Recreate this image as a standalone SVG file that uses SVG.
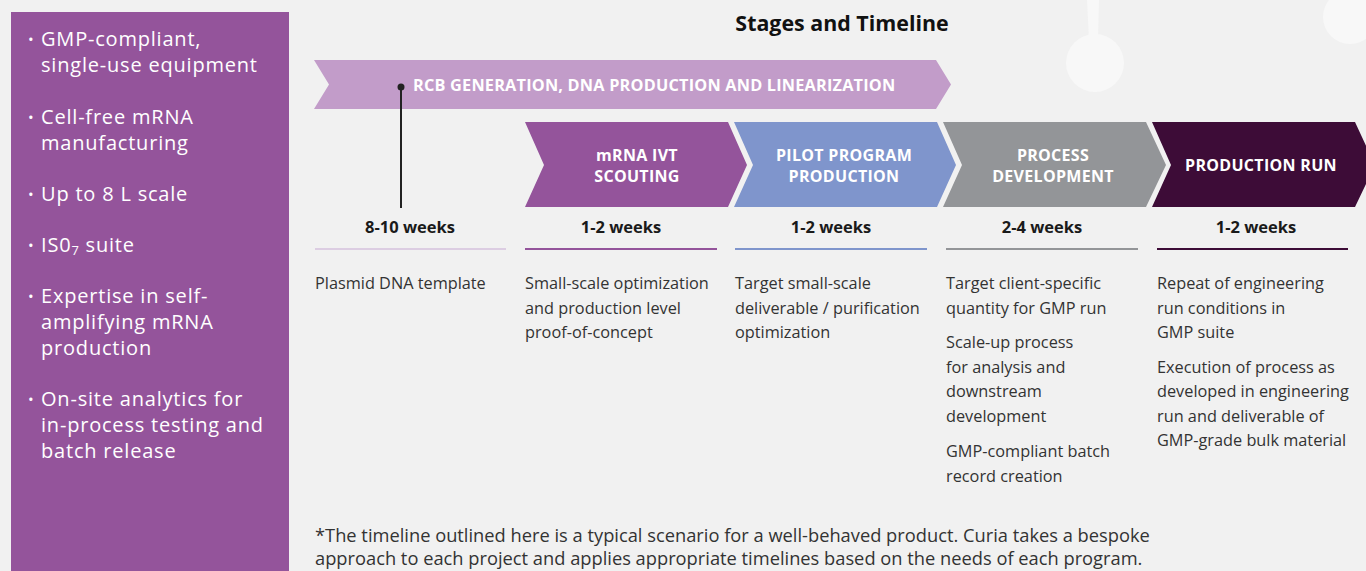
<svg xmlns="http://www.w3.org/2000/svg" width="1366" height="571" viewBox="0 0 1366 571">
  <defs>
    <style>
      .panel-text { font-family: "Open Sans", "Liberation Sans", sans-serif; font-size: 20px; letter-spacing: 0.8px; fill: #ffffff; }
      .bullet { font-family: "Open Sans", "Liberation Sans", sans-serif; font-size: 15px; fill: #ffffff; }
      .title { font-family: "Open Sans", "Liberation Sans", sans-serif; font-size: 21.4px; font-weight: 700; fill: #111111; text-anchor: middle; }
      .stage-label { font-family: "Open Sans", "Liberation Sans", sans-serif; font-size: 16px; font-weight: 700; fill: #ffffff; text-anchor: middle; letter-spacing: 0.3px; }
      .banner-label { font-family: "Open Sans", "Liberation Sans", sans-serif; font-size: 16.3px; font-weight: 700; fill: #ffffff; letter-spacing: 0.2px; }
      .weeks { font-family: "Open Sans", "Liberation Sans", sans-serif; font-size: 16.5px; font-weight: 700; fill: #1a1a1a; text-anchor: middle; }
      .body { font-family: "Open Sans", "Liberation Sans", sans-serif; font-size: 16.3px; fill: #333333; }
      .note { font-family: "Open Sans", "Liberation Sans", sans-serif; font-size: 18.3px; fill: #333333; }
      .rule { stroke-width: 2; fill: none; }
      .deco { fill: #f8f8f8; }
    </style>
  </defs>

  <!-- page background -->
  <rect x="0" y="0" width="1366" height="571" fill="#f1f1f1"/>

  <!-- faint decorative shapes -->
  <g id="decoration">
    <path class="deco" d="M1087,0 L1099,0 L1098,40 L1089,40 Z"/>
    <circle class="deco" cx="1095" cy="63" r="29"/>
    <circle class="deco" cx="1350" cy="17" r="27"/>
  </g>

  <!-- capabilities panel -->
  <g id="capabilities">
    <rect x="11" y="12" width="278" height="559" fill="#94549b"/>
    <text class="bullet" x="28" y="45">•</text>
    <text class="panel-text" x="41" y="46">GMP-compliant,</text>
    <text class="panel-text" x="41" y="72">single-use equipment</text>
    <text class="bullet" x="28" y="123">•</text>
    <text class="panel-text" x="41" y="124">Cell-free mRNA</text>
    <text class="panel-text" x="41" y="150">manufacturing</text>
    <text class="bullet" x="28" y="200">•</text>
    <text class="panel-text" x="41" y="201">Up to 8 L scale</text>
    <text class="bullet" x="28" y="251">•</text>
    <text class="panel-text" x="41" y="252">IS0<tspan font-size="13" dy="3">7</tspan><tspan dy="-3"> suite</tspan></text>
    <text class="bullet" x="28" y="302">•</text>
    <text class="panel-text" x="41" y="303">Expertise in self-</text>
    <text class="panel-text" x="41" y="329">amplifying mRNA</text>
    <text class="panel-text" x="41" y="355">production</text>
    <text class="bullet" x="28" y="405">•</text>
    <text class="panel-text" x="41" y="406">On-site analytics for</text>
    <text class="panel-text" x="41" y="432">in-process testing and</text>
    <text class="panel-text" x="41" y="458">batch release</text>
  </g>

  <text id="title" class="title" x="842" y="31">Stages and Timeline</text>

  <!-- long-running upstream stage -->
  <g id="stage-rcb">
    <path d="M314,60 L936,60 L951,84.5 L936,109 L314,109 L329,84.5 Z" fill="#c29cc9"/>
    <text class="banner-label" x="413" y="91">RCB GENERATION, DNA PRODUCTION AND LINEARIZATION</text>
  </g>

  <!-- marker dropped from the upstream stage to its timeline column -->
  <g id="connectors">
    <line x1="401" y1="87" x2="401" y2="208" stroke="#222222" stroke-width="2"/>
    <circle cx="401" cy="87" r="3.5" fill="#222222"/>
  </g>

  <g id="stage-ivt">
    <path d="M525,122 L728,122 L747,165 L728,207 L525,207 L544,165 Z" fill="#94549b"/>
    <text class="stage-label" x="637" y="161">mRNA IVT</text>
    <text class="stage-label" x="637" y="182">SCOUTING</text>
  </g>

  <g id="stage-pilot">
    <path d="M734,122 L937,122 L956,165 L937,207 L734,207 L753,165 Z" fill="#7f95cc"/>
    <text class="stage-label" x="844" y="161">PILOT PROGRAM</text>
    <text class="stage-label" x="844" y="182">PRODUCTION</text>
  </g>

  <g id="stage-process">
    <path d="M943,122 L1146,122 L1166,165 L1146,207 L943,207 L962,165 Z" fill="#939598"/>
    <text class="stage-label" x="1053" y="161">PROCESS</text>
    <text class="stage-label" x="1053" y="182">DEVELOPMENT</text>
  </g>

  <g id="stage-production">
    <path d="M1152,122 L1355,122 L1375,165 L1355,207 L1152,207 L1171,165 Z" fill="#3d0c37"/>
    <text class="stage-label" x="1261" y="171">PRODUCTION RUN</text>
  </g>

  <!-- durations and colour rules -->
  <g id="col-1">
    <text class="weeks" x="410" y="233">8-10 weeks</text>
    <line class="rule" x1="315" y1="249" x2="506" y2="249" stroke="#dccde2"/>
    <text class="body" x="315" y="289">Plasmid DNA template</text>
  </g>

  <g id="col-2">
    <text class="weeks" x="621" y="233">1-2 weeks</text>
    <line class="rule" x1="525" y1="249" x2="717" y2="249" stroke="#94549b"/>
    <text class="body" x="525" y="289">Small-scale optimization</text>
    <text class="body" x="525" y="313.5">and production level</text>
    <text class="body" x="525" y="338">proof-of-concept</text>
  </g>

  <g id="col-3">
    <text class="weeks" x="831" y="233">1-2 weeks</text>
    <line class="rule" x1="735" y1="249" x2="927" y2="249" stroke="#7f95cc"/>
    <text class="body" x="735" y="289">Target small-scale</text>
    <text class="body" x="735" y="313.5">deliverable / purification</text>
    <text class="body" x="735" y="338">optimization</text>
  </g>

  <g id="col-4">
    <text class="weeks" x="1042" y="233">2-4 weeks</text>
    <line class="rule" x1="946" y1="249" x2="1138" y2="249" stroke="#939598"/>
    <text class="body" x="946" y="289">Target client-specific</text>
    <text class="body" x="946" y="313.5">quantity for GMP run</text>
    <text class="body" x="946" y="348">Scale-up process</text>
    <text class="body" x="946" y="372.5">for analysis and</text>
    <text class="body" x="946" y="397">downstream</text>
    <text class="body" x="946" y="421.5">development</text>
    <text class="body" x="946" y="457">GMP-compliant batch</text>
    <text class="body" x="946" y="481.5">record creation</text>
  </g>

  <g id="col-5">
    <text class="weeks" x="1256" y="233">1-2 weeks</text>
    <line class="rule" x1="1157" y1="249" x2="1348" y2="249" stroke="#3d0c37"/>
    <text class="body" x="1157" y="289">Repeat of engineering</text>
    <text class="body" x="1157" y="313.5">run conditions in</text>
    <text class="body" x="1157" y="338">GMP suite</text>
    <text class="body" x="1157" y="372.5">Execution of process as</text>
    <text class="body" x="1157" y="397">developed in engineering</text>
    <text class="body" x="1157" y="421.5">run and deliverable of</text>
    <text class="body" x="1157" y="446">GMP-grade bulk material</text>
  </g>

  <g id="footnote">
    <text class="note" x="315" y="542">*The timeline outlined here is a typical scenario for a well-behaved product. Curia takes a bespoke</text>
    <text class="note" x="315" y="565">approach to each project and applies appropriate timelines based on the needs of each program.</text>
  </g>
</svg>
